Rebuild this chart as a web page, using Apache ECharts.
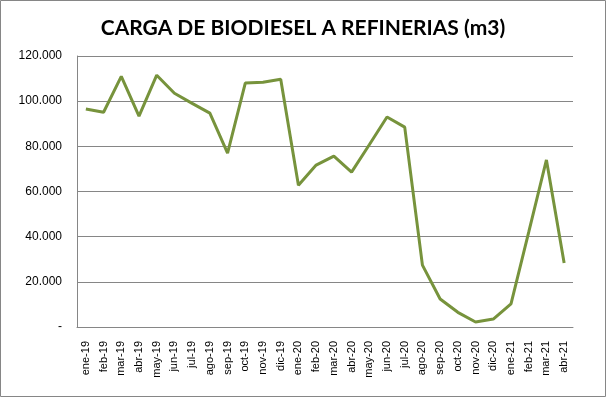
<!DOCTYPE html>
<html>
<head>
<meta charset="utf-8">
<script src="https://cdn.jsdelivr.net/npm/echarts@6/dist/echarts.min.js"></script>
<style>html,body{margin:0;padding:0;background:#fff;}#c{width:606px;height:397px;}</style>
</head>
<body>
<div id="c"></div>
<script>
const categories = ['ene-19','feb-19','mar-19','abr-19','may-19','jun-19','jul-19','ago-19','sep-19','oct-19','nov-19','dic-19',
  'ene-20','feb-20','mar-20','abr-20','may-20','jun-20','jul-20','ago-20','sep-20','oct-20','nov-20','dic-20',
  'ene-21','feb-21','mar-21','abr-21'];
const carga = [96500, 95100, 111000, 93400, 111500, 103500, 99000, 94700, 77000, 108000, 108400, 109700,
  62800, 71700, 75700, 68600, 80700, 93000, 88500, 27400, 12400, 6500, 2200, 3500,
  10200, 42000, 74000, 28300];
const yTicks = [0, 20000, 40000, 60000, 80000, 100000, 120000];

const chart = echarts.init(document.getElementById('c'));
function fmt(v){
  if (v === 0) return '-';
  return String(v).replace(/\B(?=(\d{3})+(?!\d))/g, '.');
}
chart.setOption({
  animation: false,
  backgroundColor: '#fff',
  title: {
    text: 'CARGA DE BIODIESEL A REFINERIAS (m3)',
    left: 'center', top: 13,
    textStyle: { fontFamily: 'Lato', fontWeight: 'bold', fontSize: 21, color: '#000' }
  },
  graphic: [{
    type: 'rect', shape: { x: 0.5, y: 0.5, width: 605, height: 396 },
    style: { fill: 'none', stroke: '#868686', lineWidth: 1 }, silent: true
  }],
  grid: { left: 77, right: 33, top: 56, bottom: 70 },
  xAxis: {
    type: 'category', data: categories, boundaryGap: true,
    axisLine: { lineStyle: { color: '#868686', width: 1 } },
    axisTick: { show: false },
    axisLabel: { rotate: 90, interval: 0, margin: 14, fontFamily: 'Liberation Sans', fontSize: 11, color: '#000' }
  },
  yAxis: {
    type: 'value', min: yTicks[0], max: yTicks[yTicks.length-1], interval: 20000,
    axisLine: { show: true, lineStyle: { color: '#868686', width: 1 } },
    axisTick: { show: false },
    splitLine: { lineStyle: { color: '#868686', width: 1 } },
    axisLabel: { formatter: fmt, margin: 15, fontFamily: 'Liberation Sans', fontSize: 12, color: '#000' }
  },
  series: [{
    type: 'line', data: carga, symbol: 'none',
    lineStyle: { color: '#77933C', width: 3 }
  }]
});
</script>
</body>
</html>
